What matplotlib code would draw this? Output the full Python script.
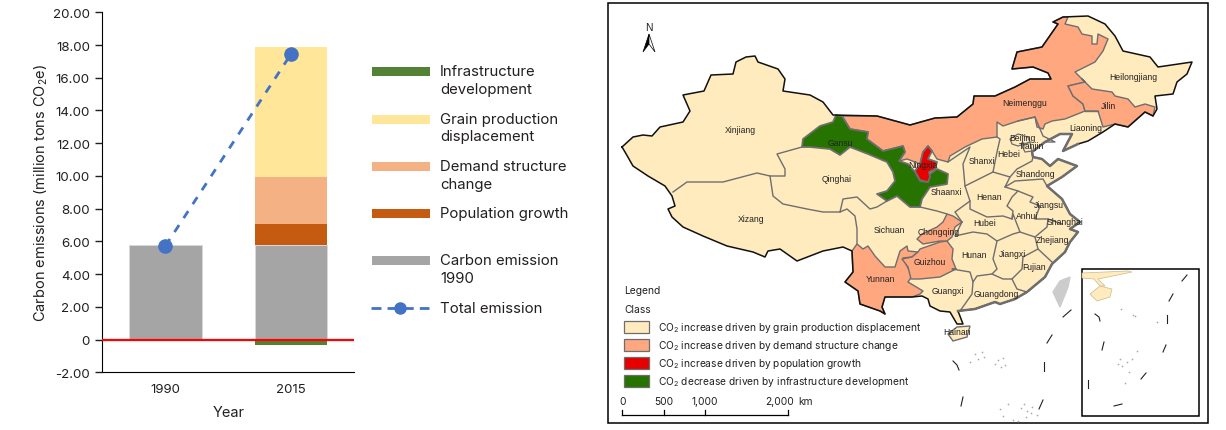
import matplotlib
matplotlib.use("Agg")
import matplotlib.pyplot as plt
from matplotlib.patches import Polygon, Rectangle

plt.rcParams['font.family'] = ['Inter', 'DejaVu Sans']
plt.rcParams['mathtext.default'] = 'regular'

# bar chart data
years = ['1990', '2015']
carbon_1990 = [5.75, 5.8]
population = [0, 1.25]
demand = [0, 2.9]
grain = [0, 7.92]
infrastructure = [0, -0.33]
total_emission = [5.72, 17.46]
y_ticks = [-2, 0, 2, 4, 6, 8, 10, 12, 14, 16, 18, 20]
y_tick_labels = ['-2.00', '0', '2.00', '4.00', '6.00', '8.00', '10.00', '12.00', '14.00', '16.00', '18.00', '20.00']

legend_names = ['Infrastructure\ndevelopment', 'Grain production\ndisplacement', 'Demand structure\nchange',
                'Population growth', 'Carbon emission\n1990']
legend_ys = [72.5, 120, 167.5, 214.5, 261.5]
legend_cols = ['#548235', '#ffe699', '#f4b183', '#c55a11', '#a5a5a5']

# map outlines, traced by hand in picture pixels
outer = [(622,148),(633,138),(643,136),(652,137),(660,128),(683,123),(690,112),(683,96),(704,92),(711,76),(733,75),
         (736,63),(746,58),(755,57),(758,63),(778,70),(785,80),(783,92),(810,96),(823,103),(833,116),(877,117),
         (910,126),(935,119),(957,118),(973,105),(974,97),(995,97),(1015,88),(1030,80),(1051,80),(1048,74),(1033,68),
         (1012,70),(1017,53),(1042,48),(1058,25),(1053,23),(1063,18),(1088,17),(1105,25),(1115,37),(1123,52),(1150,58),
         (1158,68),(1192,63),(1187,75),(1177,83),(1173,95),(1155,97),(1157,110),(1153,117),(1145,113),(1128,128),
         (1115,125),(1103,133),(1088,142),(1078,145),(1063,152),(1072,135),(1060,135),(1045,143),(1032,153),(1033,158),
         (1042,160),(1050,167),(1058,160),(1077,167),(1062,178),(1047,187),(1062,200),(1070,215),(1080,223),(1070,230),
         (1078,233),(1070,243),(1065,253),(1052,265),(1045,278),(1027,293),(1015,300),(1000,305),(995,303),(975,310),
         (958,312),(963,325),(957,325),(950,313),(940,312),(930,307),(928,300),(922,297),(912,298),(885,298),(882,308),
         (885,315),(880,312),(860,305),(858,292),(845,283),(853,273),(852,252),(843,248),(823,252),(810,257),(797,262),
         (780,250),(768,252),(765,258),(753,253),(727,247),(703,237),(683,228),(672,218),(668,210),(675,207),(672,197),
         (665,187),(648,177),(633,167),(625,153)]
hainan = [(948,335),(957,328),(970,327),(967,338),(953,342)]
taiwan = [(1070,278),(1060,282),(1053,293),(1060,308),(1068,288)]
gansu = [(836,116),(842,117),(850,130),(868,133),(867,140),(883,152),(903,147),(905,153),(899,162),(908,165),(915,173),
         (920,182),(928,183),(930,175),(937,170),(948,175),(947,185),(930,188),(922,200),(920,208),(910,208),(897,197),
         (887,202),(877,195),(887,192),(895,182),(893,173),(887,163),(868,155),(850,148),(840,156),(830,150),(810,148),
         (802,148),(803,140),(820,127),(833,123)]
ningxia = [(928,147),(932,152),(928,160),(937,163),(935,170),(929,173),(930,178),(928,183),(920,181),(915,172),(920,165),(923,153)]
neimenggu = [(842,117),(877,117),(910,126),(935,119),(957,118),(973,105),(974,97),(995,97),(1015,88),(1030,80),(1051,80),
             (1048,74),(1033,68),(1012,70),(1017,53),(1042,48),(1058,25),(1053,23),(1063,18),(1068,18),(1065,25),(1078,28),
             (1082,35),(1092,37),(1092,45),(1097,45),(1098,35),(1108,40),(1103,52),(1095,63),(1075,73),(1082,80),(1085,83),
             (1068,87),(1073,97),(1083,105),(1085,112),(1065,120),(1052,122),(1045,125),(1043,130),(1037,128),(1035,118),
             (1018,122),(1003,127),(997,123),(997,138),(982,140),(965,148),(950,157),(948,163),(937,160),(932,152),(928,147),
             (923,153),(920,165),(915,163),(907,160),(899,162),(905,153),(903,147),(883,152),(867,140),(868,133),(850,130)]
jilin = [(1085,83),(1068,87),(1073,97),(1083,105),(1085,112),(1098,112),(1103,128),(1115,125),(1128,128),(1145,113),
         (1153,117),(1155,108),(1145,105),(1135,108),(1128,100),(1115,97),(1112,93),(1092,90),(1082,80)]
yunnan = [(857,245),(863,250),(868,247),(875,257),(885,268),(895,268),(900,252),(907,247),(908,252),(918,253),(912,258),
          (903,259),(907,267),(912,277),(908,283),(923,292),(920,295),(912,298),(885,298),(882,308),(885,315),(880,312),
          (860,305),(858,292),(845,283),(853,273),(852,252)]
guizhou = [(920,250),(940,243),(947,242),(953,250),(952,260),(956,270),(940,278),(920,280),(911,280),(908,268),(902,260),
           (912,258),(918,253)]
chongqing = [(947,215),(953,217),(962,223),(955,228),(952,238),(947,242),(940,242),(923,245),(917,240),(922,235),(937,228),(943,223)]
beijing = [(1010,140),(1018,135),(1028,138),(1030,143),(1018,147),(1012,145)]
tianjin = [(1030,143),(1032,152),(1025,153),(1022,147)]

inner_lines = [
    [(673,193),(687,183),(723,183),(757,174),(770,177),(785,177),(785,170),(777,155),(802,148)],  # Xinjiang
    [(770,177),(773,197),(783,205),(807,210),(823,213),(840,213),(847,210),(855,217),(857,230),(857,245)],  # Xizang
    [(840,213),(843,200),(857,198),(870,210),(877,208),(887,202)],  # Qinghai / Sichuan
    [(920,208),(937,212),(947,215)],  # Sichuan / Shaanxi
    [(948,163),(970,148),(963,165),(965,187),(970,202),(955,213),(962,223)],  # Shaanxi
    [(997,138),(1000,140),(997,153),(993,173),(965,187)],  # Shanxi
    [(1018,122),(1035,118),(1043,137),(1055,143),(1045,143)],  # Liaoning / Hebei
    [(1098,112),(1085,112)],
    [(993,173),(1010,178),(1017,170),(1032,162),(1033,158)],  # Hebei / Shandong
    [(1010,178),(1005,188),(1015,182),(1043,180),(1047,187)],  # Shandong
    [(1005,188),(1018,192),(1012,198),(1007,207),(1013,212),(1012,220),(1003,217),(987,218),(970,210),(970,202)],  # Henan
    [(1018,192),(1033,198),(1030,203),(1040,207),(1035,220),(1048,220),(1062,225)],  # Jiangsu
    [(1012,220),(1013,215),(1020,233),(1035,238),(1047,228),(1048,220)],  # Anhui
    [(962,223),(955,237),(973,233),(987,235),(997,242),(1013,235),(1020,233)],  # Hubei
    [(1035,238),(1038,250),(1023,258),(1022,270),(1012,280),(1017,290),(1027,293)],  # Jiangxi / Fujian
    [(1038,250),(1052,263)],
    [(997,242),(993,260),(997,270),(992,275),(1003,280),(1012,280)],  # Hunan / Jiangxi
    [(992,275),(977,277),(973,283),(970,273),(952,270),(956,270)],  # Hunan south
    [(973,283),(972,295),(965,305),(960,312)],  # Guangxi / Guangdong
]
coast = [(1078,145),(1063,152),(1072,135),(1060,135),(1045,143),(1032,153),(1033,158),(1042,160),(1050,167),(1058,160),
         (1077,167),(1062,178),(1047,187),(1062,200),(1070,215),(1080,223),(1070,230),(1078,233),(1070,243),(1065,253),
         (1052,265),(1045,278),(1027,293),(1015,300),(1000,305),(995,303),(975,310),(958,312)]

province_names = ['Xinjiang','Gansu','Qinghai','Xizang','Sichuan','Yunnan','Ningxia','Heilongjiang','Neimenggu','Jilin',
                  'Liaoning','Beijing','Tianjin','Hebei','Shanxi','Shandong','Shaanxi','Henan','Jiangsu','Anhui','Shanghai',
                  'Hubei','Chongqing','Hunan','Jiangxi','Zhejiang','Fujian','Guizhou','Guangxi','Guangdong','Hainan']
province_x = [740,840,837,751,889,880,923,1133,1025,1108,1086,1022,1031,1009,982,1035,946,989,1049,1027,1065,985,939,974,1012,1052,1034,930,948,996,957]
province_y = [131,144,180,220,231,280,166,77,104,107,129,139,147,155,162,175,193,198,206,217,223,224,233,256,255,241,268,263,292,295,333]

dashes_main = [[(1063,318),(1071,311)],[(1047,344),(1052,336)],[(1044,363),(1044,372)],[(1039,410),(1043,401)],
               [(961,407),(963,398)],[(953,362),(957,366),(959,371)]]
dashes_inset = [[(1182,282),(1187,276)],[(1169,302),(1173,295)],[(1167,316),(1167,324)],[(1163,353),(1166,346)],
                [(1141,380),(1146,374)],[(1114,407),(1122,405)],[(1088,381),(1088,389)],[(1102,351),(1104,343)],
                [(1095,315),(1099,318),(1100,322)]]
islands_x = [975,978,982,984,970,995,998,1001,1003,1005,1024,1027,1032,1037,1018,1000,1003,1008,1013,1021,1026,1031,
             1121,1133,1135,1157,1137,1120,1122,1127,1129,1132,1125,1118]
islands_y = [355,360,353,358,363,365,361,368,359,366,405,412,408,416,422,410,417,405,421,409,418,414,
             310,316,317,323,352,360,367,363,373,360,384,365]
inset_coast = [(1082,274),(1128,272),(1132,273),(1108,278),(1098,280),(1105,287),(1100,287),(1094,280),(1082,279)]
inset_hainan = [(1090,295),(1100,287),(1112,290),(1110,298),(1097,302)]

map_legend_labels = ['CO$_2$ increase driven by grain production displacement', 'CO$_2$ increase driven by demand structure change',
                     'CO$_2$ increase driven by population growth', 'CO$_2$ decrease driven by infrastructure development']
map_cols = ['#ffebbe', '#ffa77f', '#e60000', '#267300']
map_legend_ys = [328, 346, 364, 382]
scale_labels = ['0', '500', '1,000', '2,000']
scale_x = [622, 664, 705, 788]
scale_label_x = [622.5, 664, 705, 779.5]

TXT = '#231f20'
W, H = 1226, 431
fig = plt.figure(figsize=(W / 100, H / 100), dpi=100)

# left panel
ax = fig.add_axes([102.5 / W, 1 - 373.3 / H, 251.5 / W, 360 / H])
x = [0, 1]
w = 0.578
ax.bar(x, carbon_1990, w, color='#a5a5a5', edgecolor='#d9d9d9', linewidth=0.6)
bottom = carbon_1990[1]
for vals, c in [(population, '#c55a11'), (demand, '#f4b183'), (grain, '#ffe699')]:
    ax.bar(1, vals[1], w, bottom=bottom, color=c)
    bottom += vals[1]
ax.bar(x, infrastructure, w, color='#548235')
ax.plot(x, total_emission, color='#4472c4', linestyle=(0, (3, 3)), linewidth=2, marker='o', markersize=9.5, zorder=5)
ax.axhline(0, color='#ff0000', linewidth=1.6, zorder=4)
ax.set_xlim(-0.5, 1.5)
ax.set_ylim(-2, 20)
ax.set_xticks(x)
ax.set_xticklabels(years)
ax.set_yticks(y_ticks)
ax.set_yticklabels(y_tick_labels)
ax.tick_params(axis='x', length=0, pad=8, labelsize=9.5, colors=TXT)
ax.tick_params(axis='y', length=5, width=1, pad=4, labelsize=9.6, colors=TXT)
ax.spines['top'].set_visible(False)
ax.spines['right'].set_visible(False)
ax.set_xlabel('Year', fontsize=10.5, color=TXT, labelpad=7)
ax.set_ylabel('Carbon emissions (million tons CO$_2$e)', fontsize=10.5, color=TXT, labelpad=2.5)

# everything else is placed in picture pixels
ov = fig.add_axes([0, 0, 1, 1])
ov.set_xlim(0, W)
ov.set_ylim(H, 0)
ov.axis('off')
ov.patch.set_alpha(0)

for name, y, c in zip(legend_names, legend_ys, legend_cols):
    ov.add_patch(Rectangle((372, y - 4.5), 58, 9, color=c, lw=0))
    lines = name.split('\n')
    for i, line in enumerate(lines):
        ov.text(440, y + i * 17.3, line, fontsize=10.75, color=TXT, va='center')
ov.plot([371, 429], [309, 309], color='#4472c4', linestyle=(0, (3.6, 2.2)), linewidth=2)
ov.plot([400], [309], 'o', color='#4472c4', markersize=8)
ov.text(440, 309, 'Total emission', fontsize=10.75, color=TXT, va='center')

# map frame
ov.add_patch(Rectangle((608, 3.5), 600, 420.5, fill=False, edgecolor='black', lw=1.1))

# map
EDGE = '#6e6e6e'
ov.add_patch(Polygon(outer, closed=True, facecolor=map_cols[0], edgecolor='none'))
ov.add_patch(Polygon(hainan, closed=True, facecolor=map_cols[0], edgecolor=EDGE, lw=1))
ov.add_patch(Polygon(taiwan, closed=True, facecolor='#cccccc', edgecolor='#cccccc', lw=1))
for poly in [neimenggu, jilin, yunnan, guizhou, chongqing]:
    ov.add_patch(Polygon(poly, closed=True, facecolor=map_cols[1], edgecolor=EDGE, lw=1, joinstyle='round'))
ov.add_patch(Polygon(gansu, closed=True, facecolor=map_cols[3], edgecolor=EDGE, lw=1.3, joinstyle='round'))
ov.add_patch(Polygon(ningxia, closed=True, facecolor=map_cols[2], edgecolor=EDGE, lw=1.3, joinstyle='round'))
for poly in [beijing, tianjin]:
    ov.add_patch(Polygon(poly, closed=True, facecolor=map_cols[0], edgecolor=EDGE, lw=0.9))
for line in inner_lines:
    ov.plot(*zip(*line), color=EDGE, lw=1, solid_joinstyle='round')
ov.plot(*zip(*(outer + outer[:1])), color='#111111', lw=1.1, solid_joinstyle='round')
ov.plot(*zip(*coast), color=EDGE, lw=1.8, solid_joinstyle='round')

for name, px, py in zip(province_names, province_x, province_y):
    ov.text(px, py, name, fontsize=6.2, color='#222222', ha='center', va='center', family='Liberation Sans')

for d in dashes_main + dashes_inset:
    ov.plot(*zip(*d), color='#222222', lw=0.8)
ov.scatter(islands_x, islands_y, s=1.5, color='#aaaaaa', linewidths=0)

# inset
ov.add_patch(Rectangle((1082, 270), 117, 147, fill=False, edgecolor='black', lw=1.1))
ov.add_patch(Polygon(inset_coast, closed=True, facecolor=map_cols[0], edgecolor='#c9b98a', lw=0.5))
ov.add_patch(Polygon(inset_hainan, closed=True, facecolor=map_cols[0], edgecolor='#c9b98a', lw=0.5))

# north arrow
ov.text(649, 28, 'N', fontsize=7.5, ha='center', va='center', color=TXT, family='Liberation Sans')
ov.add_patch(Polygon([(649, 35), (643, 53), (649, 45)], closed=True, facecolor='black', edgecolor='black', lw=0.5))
ov.add_patch(Polygon([(649, 35), (655, 53), (649, 45)], closed=True, facecolor='white', edgecolor='black', lw=0.5))

# map legend
ov.text(624, 291, 'Legend', fontsize=7.4, color=TXT, va='center')
ov.text(624, 310, 'Class', fontsize=7.4, color=TXT, va='center')
for lab, y, c in zip(map_legend_labels, map_legend_ys, map_cols):
    ov.add_patch(Rectangle((623.5, y - 6), 25.5, 12, facecolor=c, edgecolor=EDGE, lw=0.9))
    ov.text(658, y, lab, fontsize=7.35, color=TXT, va='center')

# scale bar
ov.plot([scale_x[0], scale_x[-1]], [416, 416], color='black', lw=0.9)
for sx, lx, lab in zip(scale_x, scale_label_x, scale_labels):
    ov.plot([sx, sx], [411, 416], color='black', lw=0.9)
    ov.text(lx, 402, lab, fontsize=7.35, color=TXT, ha='center', va='center')
ov.text(798, 402, 'km', fontsize=7.35, color=TXT, va='center')

fig.savefig('out.png', dpi=100)
